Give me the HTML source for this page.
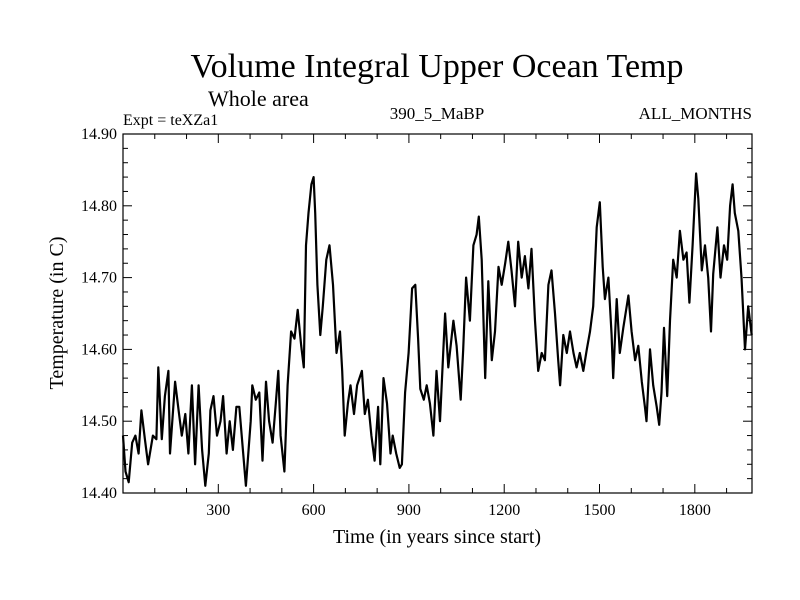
<!DOCTYPE html>
<html><head><meta charset="utf-8"><style>
body{margin:0;background:#fff;}
svg{display:block;font-family:"Liberation Serif",serif;}
</style></head><body>
<svg id="chart" width="800" height="600">
<text x="437" y="77" font-size="34" text-anchor="middle">Volume Integral Upper Ocean Temp</text>
<text x="208" y="106" font-size="22">Whole area</text>
<text x="123" y="125" font-size="16">Expt = teXZa1</text>
<text x="437" y="119" font-size="17" text-anchor="middle">390_5_MaBP</text>
<text x="752" y="119" font-size="17" text-anchor="end">ALL_MONTHS</text>
<text x="0" y="0" font-size="20" text-anchor="middle" transform="translate(63,313) rotate(-90)">Temperature (in C)</text>
<text x="437" y="543" font-size="20" text-anchor="middle">Time (in years since start)</text>
<g id="axes"></g>
<g id="series"></g>
</svg>
<script>
const years=[0,8,18,29,39,49,58,69,79,94,105,111,122,132,143,148,164,175,185,196,206,217,227,238,249,259,270,275,285,296,307,315,326,336,346,357,366,387,402,407,418,429,439,450,460,471,481,489,496,508,518,529,540,550,561,569,576,584,593,600,605,612,621,629,640,650,661,672,683,690,698,708,716,727,737,752,761,771,782,792,803,810,820,831,842,849,860,871,878,888,899,910,920,929,936,947,956,966,977,987,998,1008,1014,1024,1040,1050,1063,1071,1080,1092,1103,1113,1120,1129,1140,1150,1161,1171,1182,1192,1203,1213,1223,1234,1244,1255,1265,1276,1286,1297,1307,1318,1328,1339,1349,1360,1370,1376,1386,1397,1407,1418,1428,1438,1449,1460,1470,1480,1491,1501,1510,1517,1528,1538,1543,1554,1564,1575,1591,1601,1612,1622,1633,1643,1648,1659,1669,1680,1688,1695,1703,1713,1722,1732,1743,1753,1764,1774,1783,1793,1804,1811,1822,1832,1842,1851,1858,1871,1881,1892,1902,1911,1919,1926,1937,1947,1958,1968,1979];
const temps=[14.48,14.43,14.415,14.47,14.48,14.455,14.515,14.475,14.44,14.48,14.475,14.575,14.475,14.535,14.57,14.455,14.555,14.515,14.48,14.51,14.455,14.55,14.44,14.55,14.46,14.41,14.455,14.515,14.535,14.48,14.50,14.535,14.455,14.50,14.46,14.52,14.52,14.41,14.50,14.55,14.53,14.54,14.445,14.555,14.50,14.47,14.525,14.57,14.48,14.43,14.55,14.625,14.615,14.655,14.605,14.575,14.745,14.79,14.83,14.84,14.79,14.69,14.62,14.66,14.725,14.745,14.69,14.595,14.625,14.57,14.48,14.525,14.55,14.51,14.55,14.57,14.51,14.53,14.48,14.445,14.52,14.44,14.56,14.525,14.455,14.48,14.455,14.435,14.44,14.54,14.595,14.685,14.69,14.615,14.545,14.53,14.55,14.525,14.48,14.57,14.50,14.595,14.65,14.575,14.64,14.605,14.53,14.60,14.70,14.64,14.745,14.76,14.785,14.725,14.56,14.695,14.585,14.625,14.715,14.69,14.72,14.75,14.71,14.66,14.75,14.70,14.73,14.685,14.74,14.64,14.57,14.595,14.585,14.69,14.71,14.65,14.585,14.55,14.62,14.595,14.625,14.595,14.575,14.595,14.57,14.60,14.625,14.66,14.77,14.805,14.715,14.67,14.70,14.62,14.56,14.67,14.595,14.63,14.675,14.625,14.585,14.605,14.555,14.52,14.50,14.60,14.55,14.52,14.495,14.54,14.63,14.535,14.64,14.725,14.70,14.765,14.725,14.735,14.665,14.745,14.845,14.81,14.71,14.745,14.70,14.625,14.705,14.77,14.70,14.745,14.725,14.80,14.83,14.79,14.765,14.70,14.60,14.66,14.62];
const xTicks=[300,600,900,1200,1500,1800];
const yTicks=[14.40,14.50,14.60,14.70,14.80,14.90];
const X0=123,X1=752,Y0=493,Y1=134,XMIN=0,XMAX=1980,YMIN=14.4,YMAX=14.9;
function sx(v){return X0+(v-XMIN)/(XMAX-XMIN)*(X1-X0);}
function sy(v){return Y0-(v-YMIN)/(YMAX-YMIN)*(Y0-Y1);}
const NS="http://www.w3.org/2000/svg";
const axes=document.getElementById('axes');
function mk(tag,attrs,parent){const e=document.createElementNS(NS,tag);for(const k in attrs)e.setAttribute(k,attrs[k]);parent.appendChild(e);return e;}
const frame=mk('rect',{x:X0,y:Y1,width:X1-X0,height:Y0-Y1,fill:'none',stroke:'#000','stroke-width':1.2},axes);


for(let v=100;v<XMAX;v+=100){
  const major=v%300===0;const L=major?9:5;const x=sx(v);
  const t1=mk('line',{x1:x,x2:x,y1:Y0,y2:Y0-L,stroke:'#000'},axes);
  
  
  const t2=mk('line',{x1:x,x2:x,y1:Y1,y2:Y1+L,stroke:'#000'},axes);
  
  
}
xTicks.forEach(v=>{
  const t=mk('text',{x:sx(v),y:Y0+22,'font-size':16,'text-anchor':'middle'},axes);t.textContent=v;
  
  
});
for(let i=1;i<25;i++){
  const v=YMIN+i*0.02;const major=i%5===0;const L=major?9:5;const y=sy(v);
  const t1=mk('line',{x1:X0,x2:X0+L,y1:y,y2:y,stroke:'#000'},axes);
  
  
  const t2=mk('line',{x1:X1,x2:X1-L,y1:y,y2:y,stroke:'#000'},axes);
  
  
}
yTicks.forEach(v=>{
  const t=mk('text',{x:X0-6,y:sy(v)+5,'font-size':16,'text-anchor':'end'},axes);t.textContent=v.toFixed(2);
  
  
});
const pts=years.map((yr,i)=>sx(yr).toFixed(1)+','+sy(temps[i]).toFixed(1)).join(' ');
const line=mk('polyline',{points:pts,fill:'none',stroke:'#000','stroke-width':2.2,'stroke-linejoin':'round'},document.getElementById('series'));


</script>
</body></html>
